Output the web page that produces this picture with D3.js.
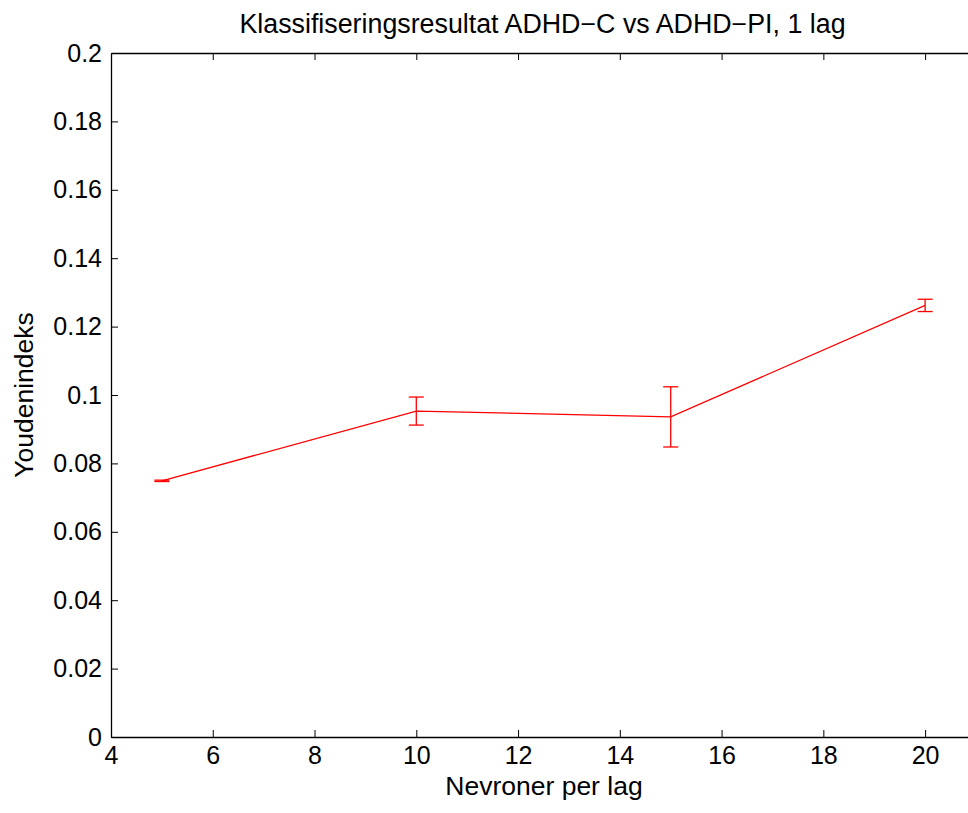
<!DOCTYPE html>
<html><head><meta charset="utf-8">
<script src="https://cdn.jsdelivr.net/npm/d3@7"></script>
<style>body{margin:0;background:#fff;overflow:hidden}text{font-family:"Liberation Sans",Arial,sans-serif;fill:#000}</style>
</head><body>
<svg id="c" width="968" height="813"></svg>
<script>
const neurons = [5, 10, 15, 20];
const youden = [0.0749, 0.0953, 0.0936, 0.1262];
const errors = [0.0002, 0.0041, 0.0088, 0.0018];
const xTicks = [4, 6, 8, 10, 12, 14, 16, 18, 20];
const yTicks = [0, 0.02, 0.04, 0.06, 0.08, 0.1, 0.12, 0.14, 0.16, 0.18, 0.2];
const title = "Klassifiseringsresultat ADHD\u2212C vs ADHD\u2212PI, 1 lag";
const xLabel = "Nevroner per lag";
const yLabel = "Youdenindeks";

const svg = d3.select("#c");
const L = 111, R = 976, T = 53, B = 737;
const x = d3.scaleLinear().domain([4, 21]).range([L, R]);
const y = d3.scaleLinear().domain([0, 0.2]).range([B, T]);
const fs = 25, lfs = 26.5;

const g = svg.append("g");
const ax = d3.axisBottom(x).tickValues(xTicks).tickSizeInner(-7).tickSizeOuter(0).tickPadding(9).tickFormat(d3.format("d"));
const ay = d3.axisLeft(y).tickValues(yTicks).tickSizeInner(-7).tickSizeOuter(0).tickPadding(9).tickFormat(d => d === 0 ? "0" : String(+d.toFixed(2)));
const axT = d3.axisTop(x).tickValues(xTicks).tickSizeInner(-7).tickSizeOuter(0).tickFormat("");
const axR = d3.axisRight(y).tickValues(yTicks).tickSizeInner(-7).tickSizeOuter(0).tickFormat("");
function style(sel){ sel.selectAll("path").attr("stroke","#000").attr("stroke-width",1.3); sel.selectAll("line").attr("stroke","#000").attr("stroke-width",1); sel.selectAll("text").attr("font-size",fs).attr("font-family","Liberation Sans, Arial, sans-serif").attr("fill","#000"); }
g.append("g").attr("transform",`translate(0,${B})`).call(ax).call(style);
g.append("g").attr("transform",`translate(${L},0)`).call(ay).call(style);
g.append("g").attr("transform",`translate(0,${T})`).call(axT).call(style);
g.append("g").attr("transform",`translate(${R},0)`).call(axR).call(style);

const red = "#ff0000";
g.append("path").datum(neurons.map((n,i)=>[n,youden[i]]))
  .attr("fill","none").attr("stroke",red).attr("stroke-width",1.3)
  .attr("d", d3.line().x(d=>x(d[0])).y(d=>y(d[1])));
const cap = 7.5;
const eb = g.append("g").attr("stroke",red).attr("stroke-width",1.3);
neurons.forEach((n,i)=>{
  const cx = x(n), y1 = y(youden[i]+errors[i]), y2 = y(youden[i]-errors[i]);
  eb.append("line").attr("x1",cx).attr("x2",cx).attr("y1",y1).attr("y2",y2);
  eb.append("line").attr("x1",cx-cap).attr("x2",cx+cap).attr("y1",y1).attr("y2",y1);
  eb.append("line").attr("x1",cx-cap).attr("x2",cx+cap).attr("y1",y2).attr("y2",y2);
});

svg.append("text").attr("x",542.5).attr("y",33).attr("text-anchor","middle").attr("font-size",26.8).text(title);
svg.append("text").attr("x",544).attr("y",795).attr("text-anchor","middle").attr("font-size",lfs).text(xLabel);
svg.append("text").attr("transform",`translate(33,${(T+B)/2}) rotate(-90)`).attr("text-anchor","middle").attr("font-size",lfs).text(yLabel);
</script>
</body></html>
